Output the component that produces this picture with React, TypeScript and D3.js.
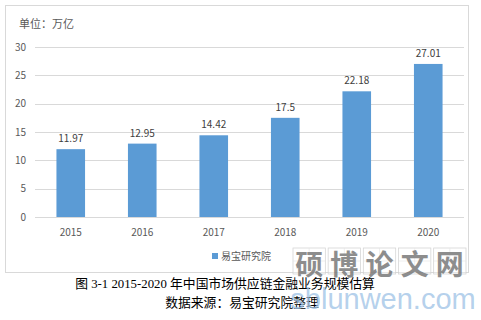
import React from "react";
import * as d3 from "d3";

const years = ["2015", "2016", "2017", "2018", "2019", "2020"];
const values = [11.97, 12.95, 14.42, 17.5, 22.18, 27.01];
const valueLabels = ["11.97", "12.95", "14.42", "17.5", "22.18", "27.01"];
const yTicks = [0, 5, 10, 15, 20, 25, 30];
const seriesName = "易宝研究院";
const unitLabel = "单位：万亿";
const caption1 = "图 3-1  2015-2020 年中国市场供应链金融业务规模估算";
const caption2 = "数据来源：易宝研究院整理";
const wmChars = ["硕", "博", "论", "文", "网"];
const wmUrl = "sblunwen.com";

export default function App() {
  const W = 481, H = 320;
  const x = d3.scaleBand<string>().domain(years).range([35, 464]).paddingInner(0.6).paddingOuter(0.3);
  const y = d3.scaleLinear().domain([0, 30]).range([217, 47]);
  const sans = "'Noto Sans CJK SC', 'DejaVu Sans', sans-serif";
  const serif = "'Liberation Serif', 'Noto Sans CJK SC', serif";
  const wmX = d3.scaleBand<string>().domain(wmChars).range([293, 466]).paddingInner(0.08);
  return (
    <svg width={W} height={H} style={{ position: "absolute", left: 0, top: 0, background: "#fff" }}>
      <rect x={0} y={0} width={W} height={H} fill="#fff" />
      <rect x={5.5} y={5.5} width={463} height={267} fill="#fff" stroke="#d9d9d9" strokeWidth={1} />
      <text x={19} y={28} fontFamily={sans} fontSize={11} fill="#595959">{unitLabel}</text>
      {yTicks.map((t) => (
        <g key={t}>
          <line x1={35} x2={464} y1={Math.round(y(t)) + 0.5} y2={Math.round(y(t)) + 0.5} stroke="#d9d9d9" strokeWidth={1} />
          <text x={26} y={y(t) + 3.5} textAnchor="end" fontFamily={sans} fontSize={10} fill="#595959">{t}</text>
        </g>
      ))}
      {years.map((yr, i) => (
        <g key={yr}>
          <rect x={x(yr)} y={y(values[i])} width={x.bandwidth()} height={y(0) - y(values[i])} fill="#5b9bd5" />
          <text x={(x(yr) as number) + x.bandwidth() / 2} y={y(values[i]) - 7} textAnchor="middle" fontFamily={sans} fontSize={10} fill="#404040">{valueLabels[i]}</text>
          <text x={(x(yr) as number) + x.bandwidth() / 2} y={236} textAnchor="middle" fontFamily={sans} fontSize={10} fill="#595959">{yr}</text>
        </g>
      ))}
      <rect x={212} y={253} width={6} height={6} fill="#5b9bd5" />
      <text x={221} y={260} fontFamily={serif} fontSize={10} fill="#595959">{seriesName}</text>
      <text x={225} y={288} textAnchor="middle" fontFamily={serif} fontSize={12.8} fill="#000">{caption1}</text>
      <text x={242} y={307} textAnchor="middle" fontFamily={serif} fontSize={12.8} fill="#000">{caption2}</text>
      <g opacity={0.85}>
        {wmChars.map((c) => {
          const bx = wmX(c) as number;
          const bw = wmX.bandwidth();
          return (
            <g key={c}>
              <rect x={bx} y={248} width={bw} height={26} fill="#fff" fillOpacity={0.4} stroke="#d0d0d0" strokeWidth={0.8} />
              <line x1={bx + bw / 2} x2={bx + bw / 2} y1={248} y2={274} stroke="#e0e0e0" strokeWidth={0.6} />
              <line x1={bx} x2={bx + bw} y1={261} y2={261} stroke="#e0e0e0" strokeWidth={0.6} />
              <text x={bx + bw / 2} y={275} textAnchor="middle" fontFamily={sans} fontWeight={700} fontSize={28} fill="#7a7a7a">{c}</text>
            </g>
          );
        })}
        <text x={383} y={309} textAnchor="middle" fontFamily="'Liberation Sans', Arial, sans-serif" fontSize={29} fill="#9ec3e6" fillOpacity={0.9}>{wmUrl}</text>
      </g>
    </svg>
  );
}
